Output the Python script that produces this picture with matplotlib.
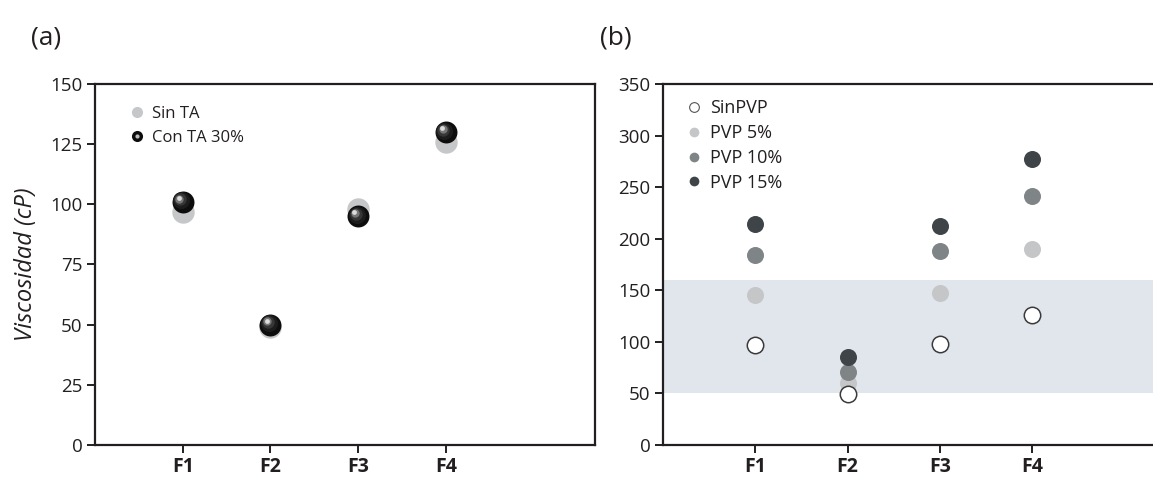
import matplotlib
matplotlib.use("agg")
import matplotlib.pyplot as plt
from matplotlib.transforms import offset_copy
from matplotlib.lines import Line2D
from matplotlib.legend_handler import HandlerTuple

plt.rcParams['font.family'] = ['Open Sans', 'DejaVu Sans']

formulas = ['F1', 'F2', 'F3', 'F4']
x_pos = [1, 2, 3, 4]

# panel (a): viscosity with and without TA
sin_ta = [97, 49, 98, 126]
con_ta = [101, 50, 95, 130]

# panel (b): viscosity vs PVP content
sin_pvp = [97, 49, 98, 126]
pvp_5 = [145, 60, 147, 190]
pvp_10 = [184, 71, 188, 241]
pvp_15 = [214, 85, 212, 277]
band = (50, 160)

yticks_a = [0, 25, 50, 75, 100, 125, 150]
yticks_b = [0, 50, 100, 150, 200, 250, 300, 350]

spine_color = '#231f20'
text_color = '#231f20'

fig = plt.figure(figsize=(11.53, 4.79), dpi=100)
ax_a = fig.add_axes([0.0824, 0.071, 0.4337, 0.7537])
ax_b = fig.add_axes([0.575, 0.071, 0.4563, 0.7537])


def style_axes(ax, yticks):
    ax.set_xlim(0, 5.7)
    ax.set_ylim(yticks[0], yticks[-1])
    ax.set_yticks(yticks)
    ax.set_xticks(x_pos)
    ax.set_xticklabels(formulas, fontweight='bold', fontsize=14)
    for s in ax.spines.values():
        s.set_linewidth(1.6)
        s.set_color(spine_color)
    ax.tick_params(axis='both', direction='out', length=6, width=1.4,
                   color=spine_color, labelsize=13.5, labelcolor=text_color)
    ax.tick_params(axis='x', pad=3, labelsize=14)
    ax.tick_params(axis='y', pad=3)


style_axes(ax_a, yticks_a)
style_axes(ax_b, yticks_b)

# --- (a) ---
ax_a.scatter(x_pos, sin_ta, s=260, color='#c6c7c9', zorder=2, linewidths=0)

# glossy black spheres: dark base plus stacked highlights shifted up-left
ax_a.scatter(x_pos, con_ta, s=250, color='#0d0d0d', zorder=3, linewidths=0)
shades = [(150, '#1c1c1c', -1.1, 1.1), (80, '#363636', -1.8, 1.8),
          (36, '#767676', -2.4, 2.4), (12, '#dcdcdc', -2.8, 2.8)]
for size, col, dx, dy in shades:
    tr = offset_copy(ax_a.transData, fig=fig, x=dx, y=dy, units='points')
    ax_a.scatter(x_pos, con_ta, s=size, color=col, zorder=4, linewidths=0,
                 transform=tr)

h_sin = Line2D([], [], marker='o', ls='', ms=8, mfc='#c6c7c9', mec='none')
h_con = Line2D([], [], marker='o', ls='', ms=8, mfc='#0d0d0d', mec='none')
h_hi = Line2D([], [], marker='o', ls='', ms=3, mfc='#bdbdbd', mec='none')
ax_a.legend([h_sin, (h_con, h_hi)], ['Sin TA', 'Con TA 30%'],
            handler_map={tuple: HandlerTuple(ndivide=1)},
            loc='upper left', bbox_to_anchor=(0.033, 0.98), frameon=False,
            fontsize=12, handletextpad=0.3, handlelength=1.2,
            labelspacing=0.45, labelcolor=text_color)

ax_a.set_ylabel('Viscosidad (cP)', fontsize=17, fontstyle='italic',
                color=text_color, labelpad=9)

# --- (b) ---
ax_b.axhspan(band[0], band[1], color='#e1e6ed', zorder=0, linewidth=0)
ax_b.scatter(x_pos, sin_pvp, s=140, facecolor='white', edgecolor='#3a3a3a',
             linewidths=1.1, zorder=3, label='SinPVP')
ax_b.scatter(x_pos, pvp_5, s=150, color='#c5c6c8', linewidths=0, zorder=2,
             label='PVP 5%')
ax_b.scatter(x_pos, pvp_10, s=150, color='#7f8487', linewidths=0, zorder=2,
             label='PVP 10%')
ax_b.scatter(x_pos, pvp_15, s=150, color='#3e4447', linewidths=0, zorder=2,
             label='PVP 15%')

hb = [Line2D([], [], marker='o', ls='', ms=7, mfc='white', mec='#555555', mew=0.8),
      Line2D([], [], marker='o', ls='', ms=7, mfc='#c5c6c8', mec='none'),
      Line2D([], [], marker='o', ls='', ms=7, mfc='#7f8487', mec='none'),
      Line2D([], [], marker='o', ls='', ms=7, mfc='#3e4447', mec='none')]
ax_b.legend(hb, ['SinPVP', 'PVP 5%', 'PVP 10%', 'PVP 15%'],
            loc='upper left', bbox_to_anchor=(0.007, 1.003), frameon=False,
            fontsize=13, handletextpad=0.3, handlelength=1.2,
            labelspacing=0.38, labelcolor=text_color)

fig.text(0.027, 0.92, '(a)', fontsize=19, color=text_color, va='center')
fig.text(0.520, 0.92, '(b)', fontsize=19, color=text_color, va='center')

fig.savefig('out.png', dpi=100)
plt.close(fig)
